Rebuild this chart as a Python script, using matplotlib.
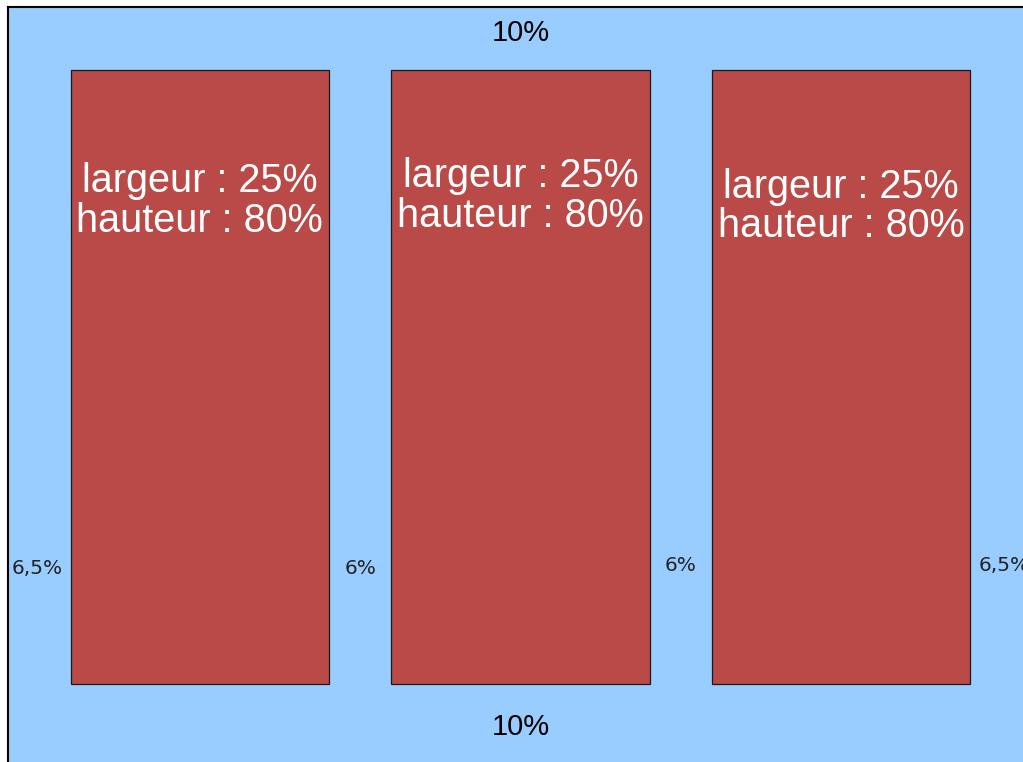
import numpy as np
import matplotlib.pyplot as plt

# Dimensions des colonnes et marges (en % de la zone)
largeurs = [25, 25, 25]
hauteurs = [80, 80, 80]
marges_horizontales = [6.5, 6, 6, 6.5]
marge_haut = 10
marge_bas = 10

COULEUR_FOND = '#99CCFF'
COULEUR_COLONNE = '#B94A48'


def pourcent(v):
    return '{:g}%'.format(v).replace('.', ',')


fig = plt.figure(figsize=(10.23, 7.62), dpi=100)
fig.patch.set_facecolor('white')
ax = fig.add_axes([7.5 / 1023, 0, 1 - 7.5 / 1023, 1 - 6.5 / 762])
ax.set_facecolor(COULEUR_FOND)

# positions des colonnes a partir des marges
gauches = []
x = 0
for i, l in enumerate(largeurs):
    x += marges_horizontales[i]
    gauches.append(x)
    x += l

ax.bar(gauches, hauteurs, width=largeurs, bottom=marge_bas, align='edge',
       color=COULEUR_COLONNE, edgecolor='#1a1a1a', linewidth=0.9)

decalage_texte = [72.9, 73.6, 72.2]
for g, l, h, yt in zip(gauches, largeurs, hauteurs, decalage_texte):
    ax.text(g + l / 2, yt, 'largeur : {}\nhauteur : {}'.format(pourcent(l), pourcent(h)),
            ha='center', va='center', color='white', fontsize=28.5,
            family='Liberation Sans', linespacing=1.05)

# marges horizontales entre les colonnes
bords = [0] + [g + l for g, l in zip(gauches, largeurs)]
for b, m, yy in zip(bords, marges_horizontales, [25.1, 25.1, 25.5, 25.5]):
    ax.text(b + m / 2, yy, pourcent(m), ha='center', va='center',
            fontsize=14.5, color='#222222', family='DejaVu Sans')

ax.text(50, 100 - marge_haut / 2 - 0.2, pourcent(marge_haut), ha='center', va='center',
        fontsize=21, color='black', family='Liberation Sans')
ax.text(50, marge_bas / 2 - 0.6, pourcent(marge_bas), ha='center', va='center',
        fontsize=21, color='black', family='Liberation Sans')

ax.set_xlim((7.5 - 3.4) / 10.34, (1023 - 3.4) / 10.34)
ax.set_ylim(10 - 78 / 7.675, 90 + 63.5 / 7.675)
ax.set_xticks([])
ax.set_yticks([])
for cote in ['right', 'bottom']:
    ax.spines[cote].set_visible(False)
for cote in ['left', 'top']:
    ax.spines[cote].set_linewidth(1.5)
    ax.spines[cote].set_color('black')

fig.savefig('out.png', dpi=100, facecolor='white')
